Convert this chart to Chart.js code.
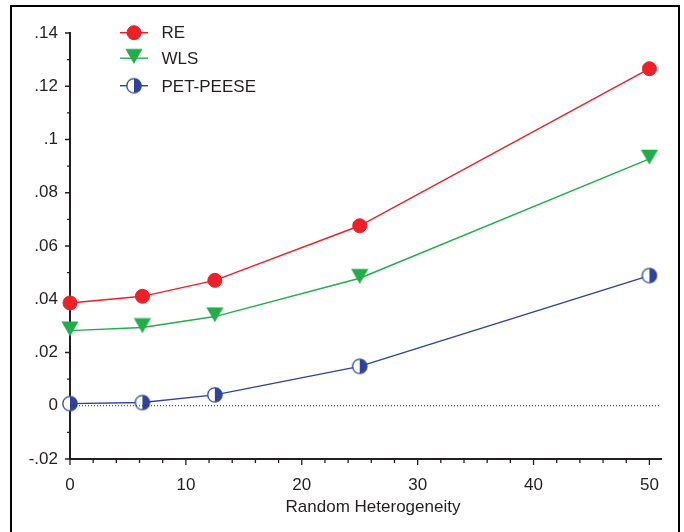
<!DOCTYPE html>
<html>
<head>
<meta charset="utf-8">
<script src="https://cdn.jsdelivr.net/npm/chart.js@4.4.1/dist/chart.umd.min.js"></script>
<style>
  html, body { margin: 0; padding: 0; background: #fff; }
  #wrap { position: relative; width: 684px; height: 532px; overflow: hidden; }
  #frame {
    position: absolute; left: 10px; top: 5px; width: 670px; height: 600px;
    box-sizing: border-box; border: 2px solid #000; pointer-events: none;
  }
</style>
</head>
<body>
<div id="wrap">
  <canvas id="chart" width="684" height="532"></canvas>
  <div id="frame"></div>
</div>
<script>
// values
const xValues = [0, 6.25, 12.5, 25, 50];
const reValues = [0.0386, 0.0411, 0.0471, 0.0676, 0.1266];
const wlsValues = [0.0282, 0.0294, 0.0335, 0.0479, 0.0927];
const petValues = [0.0008, 0.0012, 0.0041, 0.0148, 0.0489];

const seriesNames = ["RE", "WLS", "PET-PEESE"];

const xTicks = [0, 10, 20, 30, 40, 50];
const xTickLabels = ["0", "10", "20", "30", "40", "50"];
const yTicks = [-0.02, 0, 0.02, 0.04, 0.06, 0.08, 0.1, 0.12, 0.14];
const yTickLabels = ["-.02", "0", ".02", ".04", ".06", ".08", ".1", ".12", ".14"];
const xTitle = "Random Heterogeneity";

const zeroLineX = [0, 51];

const RED = "#ed2027";
const GREEN = "#22ad4b";
const BLUE = "#2e4399";
const INK = "#231f20";
const FONT = "'Liberation Sans', Arial, Helvetica, sans-serif";

// half filled circle marker
function halfCircle() {
    const c = document.createElement("canvas");
    c.width = 18; c.height = 18;
    const g = c.getContext("2d");
    g.beginPath();
    g.arc(9, 9, 7.2, 0, Math.PI * 2);
    g.fillStyle = "#fff";
    g.fill();
    g.beginPath();
    g.arc(9, 9, 7.2, -Math.PI / 2, Math.PI / 2);
    g.closePath();
    g.fillStyle = BLUE;
    g.fill();
    g.beginPath();
    g.arc(9, 9, 7.2, 0, Math.PI * 2);
    g.lineWidth = 1.3;
    g.strokeStyle = BLUE;
    g.stroke();
    return c;
}

// down triangle, anchored a bit below its middle
function downTriangle() {
    const c = document.createElement("canvas");
    c.width = 20; c.height = 20;
    const g = c.getContext("2d");
    g.beginPath();
    g.moveTo(1.4, 0.8);
    g.lineTo(18.6, 0.8);
    g.lineTo(10, 15.8);
    g.closePath();
    g.fillStyle = GREEN;
    g.fill();
    return c;
}

function toPoints(ys) {
    return xValues.map((x, i) => ({ x: x, y: ys[i] }));
}

const minorTicks = {
    id: "minorTicks",
    beforeDatasetsDraw(chart) {
        const ctx = chart.ctx;
        const xs = chart.scales.x;
        const ys = chart.scales.y;
        ctx.save();
        ctx.strokeStyle = INK;
        ctx.lineWidth = 1.3;
        ctx.beginPath();
        for (let v = 0; v <= 50; v += 2) {
            const px = xs.getPixelForValue(v);
            const len = v % 10 === 0 ? 6 : 4;
            ctx.moveTo(px, xs.top);
            ctx.lineTo(px, xs.top + len);
        }
        for (let i = 0; i <= 16; i++) {
            const py = ys.getPixelForValue(-0.02 + i * 0.01);
            const len = i % 2 === 0 ? 5 : 3;
            ctx.moveTo(ys.right, py);
            ctx.lineTo(ys.right - len, py);
        }
        ctx.stroke();
        ctx.restore();
    }
};

const legendAndTitle = {
    id: "legendAndTitle",
    afterDraw(chart) {
        const ctx = chart.ctx;
        const rows = [32.7, 58.2, 85.7];
        ctx.save();
        chart.data.datasets.slice(1).forEach((ds, i) => {
            const y = rows[i];
            ctx.strokeStyle = ds.borderColor;
            ctx.lineWidth = ds.borderWidth;
            ctx.beginPath();
            ctx.moveTo(120, y);
            ctx.lineTo(148, y);
            ctx.stroke();
            ctx.fillStyle = ds.pointBackgroundColor;
            ctx.strokeStyle = ds.pointBorderColor;
            ctx.lineWidth = ds.pointBorderWidth;
            Chart.helpers.drawPoint(ctx, {
                pointStyle: ds.pointStyle,
                radius: ds.pointRadius,
                rotation: 0,
                borderWidth: ds.pointBorderWidth
            }, 134, y);
            ctx.fillStyle = INK;
            ctx.font = "17px " + FONT;
            ctx.textBaseline = "alphabetic";
            ctx.textAlign = "left";
            ctx.fillText(ds.label, 161.5, y + 5.5 + (i === 2 ? 1.2 : 0));
        });
        ctx.font = "17px " + FONT;
        ctx.fillStyle = INK;
        ctx.textAlign = "center";
        ctx.fillText(xTitle, 373, 511.5);
        ctx.restore();
    }
};

new Chart(document.getElementById("chart"), {
    type: "line",
    data: {
        datasets: [
            {
                label: "zero",
                data: zeroLineX.map(x => ({ x: x, y: 0 })),
                borderColor: INK,
                borderWidth: 1,
                borderDash: [1, 2],
                pointRadius: 0,
                clip: false
            },
            {
                label: seriesNames[0],
                data: toPoints(reValues),
                borderColor: RED,
                borderWidth: 1.4,
                pointStyle: "circle",
                pointRadius: 7,
                pointBackgroundColor: RED,
                pointBorderColor: RED,
                pointBorderWidth: 1,
                clip: false
            },
            {
                label: seriesNames[1],
                data: toPoints(wlsValues),
                borderColor: GREEN,
                borderWidth: 1.4,
                pointStyle: downTriangle(),
                pointRadius: 9,
                pointBackgroundColor: GREEN,
                pointBorderColor: GREEN,
                pointBorderWidth: 0,
                clip: false
            },
            {
                label: seriesNames[2],
                data: toPoints(petValues),
                borderColor: BLUE,
                borderWidth: 1.4,
                pointStyle: halfCircle(),
                pointRadius: 8,
                pointBackgroundColor: BLUE,
                pointBorderColor: BLUE,
                pointBorderWidth: 0,
                clip: false
            }
        ]
    },
    options: {
        responsive: false,
        animation: false,
        layout: {
            padding: { top: 33, right: 23, left: 0, bottom: 0 }
        },
        plugins: {
            legend: { display: false },
            tooltip: { enabled: false }
        },
        scales: {
            x: {
                type: "linear",
                min: 0,
                max: 51,
                afterBuildTicks: s => { s.ticks = xTicks.map(v => ({ value: v })); },
                afterFit: s => { s.height = 73; },
                grid: { display: false, drawTicks: false },
                border: { display: true, color: INK, width: 2 },
                ticks: {
                    padding: 16,
                    color: INK,
                    font: { family: FONT, size: 17 },
                    callback: (v, i) => xTickLabels[i]
                }
            },
            y: {
                type: "linear",
                min: -0.02,
                max: 0.14,
                afterBuildTicks: s => { s.ticks = yTicks.map(v => ({ value: v })); },
                afterFit: s => { s.width = 70; },
                grid: { display: false, drawTicks: false },
                border: { display: true, color: INK, width: 2 },
                ticks: {
                    padding: 12,
                    color: INK,
                    font: { family: FONT, size: 17 },
                    callback: (v, i) => yTickLabels[i]
                }
            }
        }
    },
    plugins: [minorTicks, legendAndTitle]
});
</script>
</body>
</html>
